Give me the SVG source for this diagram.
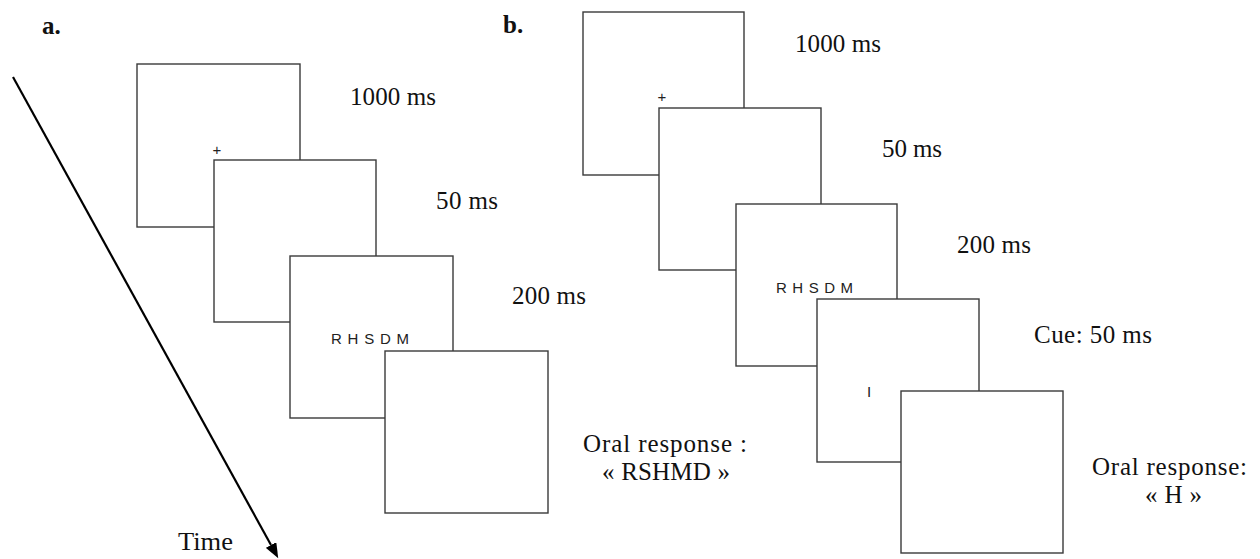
<svg xmlns="http://www.w3.org/2000/svg" width="1260" height="559" viewBox="0 0 1260 559">
<style>
.box{fill:#fff;stroke:#3a3a3a;stroke-width:1.4}
.lbl{font-family:"Liberation Serif",serif;font-size:25px;fill:#111}
.hd{font-family:"Liberation Serif",serif;font-size:25px;font-weight:bold;fill:#111}
.stim{font-family:"Liberation Sans",Arial,sans-serif;font-size:15px;fill:#222}
</style>
<defs>
<marker id="ah" markerUnits="userSpaceOnUse" markerWidth="16" markerHeight="12" refX="0" refY="6" orient="auto">
<path d="M0,0 L15,6 L0,12 z" fill="#000"/>
</marker>
</defs>
<rect width="1260" height="559" fill="#fff"/>
<text class="hd" x="42" y="34">a.</text>
<text class="hd" x="503" y="33">b.</text>
<g id="connectors">
<line x1="13" y1="77" x2="271" y2="545" stroke="#000" stroke-width="2.2" marker-end="url(#ah)"/>
</g>
<text class="lbl" x="178" y="550" textLength="55" lengthAdjust="spacingAndGlyphs">Time</text>
<g id="a1"><rect class="box" x="137" y="64" width="163" height="163"/><text class="stim" x="217" y="155" text-anchor="middle">+</text></g>
<g id="a2"><rect class="box" x="214" y="160" width="162" height="162"/></g>
<g id="a3"><rect class="box" x="290" y="256" width="163" height="162"/><text class="stim" x="331" y="344" textLength="78" lengthAdjust="spacing">R H S D M</text></g>
<g id="a4"><rect class="box" x="385" y="351" width="163" height="162"/></g>
<text class="lbl" x="350" y="105" textLength="86" lengthAdjust="spacing">1000 ms</text>
<text class="lbl" x="436" y="209" textLength="62" lengthAdjust="spacing">50 ms</text>
<text class="lbl" x="512" y="304" textLength="74" lengthAdjust="spacing">200 ms</text>
<text class="lbl" x="583" y="452" textLength="164" lengthAdjust="spacing">Oral response :</text>
<text class="lbl" x="602" y="480" textLength="128" lengthAdjust="spacing">« RSHMD »</text>
<g id="b1"><rect class="box" x="583" y="12" width="161" height="163"/><text class="stim" x="662" y="102" text-anchor="middle">+</text></g>
<g id="b2"><rect class="box" x="659" y="108" width="162" height="162"/></g>
<g id="b3"><rect class="box" x="736" y="204" width="161" height="162"/><text class="stim" x="776" y="293" textLength="77" lengthAdjust="spacing">R H S D M</text></g>
<g id="b4"><rect class="box" x="817" y="299" width="162" height="163"/><text class="stim" x="869" y="397" text-anchor="middle" font-size="16">I</text></g>
<g id="b5"><rect class="box" x="901" y="391" width="162" height="162"/></g>
<text class="lbl" x="795" y="52" textLength="86" lengthAdjust="spacing">1000 ms</text>
<text class="lbl" x="882" y="157" textLength="60" lengthAdjust="spacing">50 ms</text>
<text class="lbl" x="957" y="253" textLength="74" lengthAdjust="spacing">200 ms</text>
<text class="lbl" x="1034" y="343" textLength="118" lengthAdjust="spacing">Cue: 50 ms</text>
<text class="lbl" x="1092" y="475" textLength="155" lengthAdjust="spacing">Oral response:</text>
<text class="lbl" x="1145" y="503" textLength="57" lengthAdjust="spacing">« H »</text>
</svg>
